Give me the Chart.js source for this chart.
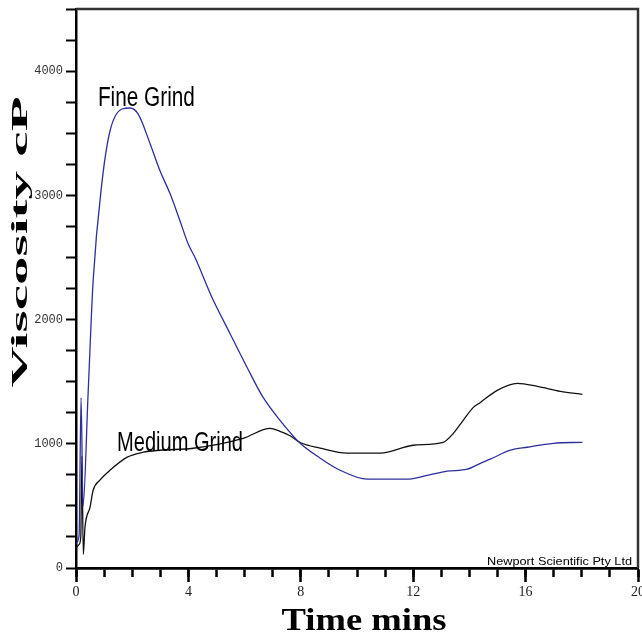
<!DOCTYPE html>
<html>
<head>
<meta charset="utf-8">
<script src="https://cdn.jsdelivr.net/npm/chart.js@4/dist/chart.umd.min.js"></script>
<style>
  html, body { margin: 0; padding: 0; background: #fff; }
  #wrap { width: 642px; height: 633px; }
</style>
</head>
<body>
<div id="wrap"><canvas id="grafico"></canvas></div>
<script>
// Fine Grind (blue) - time in mins, viscosity in cP
const timeFine = [0, 0.11, 0.18, 0.25, 0.43, 0.61, 0.93, 1.21, 1.64, 1.92, 2.21, 2.64, 2.99, 3.35, 3.70, 3.99, 4.24, 4.84, 5.48, 6.09, 6.66, 7.26, 7.98, 8.69, 9.40, 10.36, 11.79, 12.50, 13.21, 13.92, 14.39, 14.74, 15.46, 16.06, 16.99, 18.02];
const viscFine = [200, 260, 1370, 500, 1400, 2313, 3116, 3518, 3695, 3703, 3655, 3414, 3197, 3012, 2795, 2610, 2498, 2177, 1888, 1614, 1373, 1189, 1004, 884, 787, 715, 715, 745, 779, 795, 843, 876, 948, 972, 1004, 1012];

// Medium Grind (black)
const timeMedium = [0, 0.11, 0.17, 0.21, 0.26, 0.32, 0.50, 0.61, 0.85, 1.21, 1.82, 2.39, 2.99, 4.17, 5.95, 6.91, 7.26, 7.62, 7.98, 8.69, 9.65, 10.83, 12.00, 13.07, 13.43, 13.78, 14.14, 14.39, 14.99, 15.71, 16.42, 17.24, 18.02];
const viscMedium = [160, 190, 250, 900, 110, 330, 490, 626, 707, 787, 892, 932, 948, 964, 1044, 1124, 1100, 1065, 1010, 965, 924, 924, 988, 1012, 1084, 1189, 1293, 1333, 1430, 1486, 1462, 1422, 1398];

const xTicksMajor = [0, 4, 8, 12, 16, 20];
const yTicksLabelled = [0, 1000, 2000, 3000, 4000];

const corAzul = '#2d2f9e';
const corPreta = '#111111';

function toPoints(xs, ys) {
    return xs.map((x, i) => ({ x: x, y: ys[i] }));
}

// texto esticado para caber numa largura
function textoAjustado(ctx, texto, x, y, largura, fonte, align) {
    ctx.save();
    ctx.font = fonte;
    const w = ctx.measureText(texto).width;
    const s = largura / w;
    ctx.translate(x, y);
    ctx.scale(s, 1);
    ctx.textBaseline = 'alphabetic';
    ctx.textAlign = align || 'left';
    ctx.fillText(texto, 0, 0);
    ctx.restore();
}

const extrasPlugin = {
    id: 'extras',
    afterDraw(chart) {
        const ctx = chart.ctx;
        const area = chart.chartArea;
        const xs = chart.scales.x;
        const ys = chart.scales.y;

        // moldura superior e direita
        ctx.save();
        ctx.strokeStyle = '#333';
        ctx.lineWidth = 2.5;
        ctx.beginPath();
        ctx.moveTo(area.left, area.top);
        ctx.lineTo(area.right, area.top);
        ctx.lineTo(area.right, area.bottom);
        ctx.stroke();
        ctx.restore();

        ctx.save();
        ctx.fillStyle = '#000';

        // titulo eixo y
        ctx.save();
        ctx.translate(27, 242);
        ctx.rotate(-Math.PI / 2);
        textoAjustado(ctx, 'Viscosity cP', 0, 0, 291, 'bold 23px "Liberation Serif"', 'center');
        ctx.restore();

        // titulo eixo x
        textoAjustado(ctx, 'Time mins', 364, 630, 165, 'bold 32px "Liberation Serif"', 'center');

        // rotulos das curvas
        textoAjustado(ctx, 'Fine Grind', xs.getPixelForValue(0.78), ys.getPixelForValue(3720), 97, '27px "Liberation Sans"');
        textoAjustado(ctx, 'Medium Grind', xs.getPixelForValue(1.46), ys.getPixelForValue(942), 126, '28px "Liberation Sans"');

        // credito
        textoAjustado(ctx, 'Newport Scientific Pty Ltd', 487, 565, 145, '11px "Liberation Sans"');
        ctx.restore();
    }
};

const ctx = document.getElementById('grafico').getContext('2d');
const myChart = new Chart(ctx, {
    type: 'scatter',
    data: {
        datasets: [
            {
                label: 'Fine Grind',
                data: toPoints(timeFine, viscFine),
                showLine: true,
                borderColor: corAzul,
                borderWidth: 1.3,
                pointRadius: 0,
                cubicInterpolationMode: 'monotone',
                xAxisID: 'x',
                yAxisID: 'y'
            },
            {
                label: 'Medium Grind',
                data: toPoints(timeMedium, viscMedium),
                showLine: true,
                borderColor: corPreta,
                borderWidth: 1.3,
                pointRadius: 0,
                cubicInterpolationMode: 'monotone',
                xAxisID: 'x',
                yAxisID: 'y'
            }
        ]
    },
    options: {
        responsive: true,
        maintainAspectRatio: false,
        animation: false,
        layout: { padding: { top: 9, right: 4, left: 0, bottom: 0 } },
        plugins: {
            legend: { display: false },
            tooltip: { enabled: false }
        },
        scales: {
            x: {
                type: 'linear',
                position: 'bottom',
                weight: 1,
                min: 0,
                max: 20,
                afterBuildTicks: (scale) => {
                    scale.ticks = xTicksMajor.map(v => ({ value: v }));
                },
                ticks: {
                    color: '#222',
                    padding: 2,
                    maxRotation: 0,
                    autoSkip: false,
                    font: { family: '"Liberation Serif"', size: 14 }
                },
                grid: {
                    drawOnChartArea: false,
                    drawTicks: true,
                    tickLength: 14,
                    tickWidth: 2.5,
                    tickColor: '#000'
                },
                border: { display: true, color: '#000', width: 2.5 },
                afterFit: (scale) => {
                    scale.height = 65;
                    scale.paddingLeft = 0;
                    scale.paddingRight = 0;
                }
            },
            x2: {
                type: 'linear',
                position: 'bottom',
                weight: 0,
                min: 0,
                max: 20,
                ticks: { display: false, stepSize: 1 },
                grid: {
                    drawOnChartArea: false,
                    drawTicks: true,
                    tickLength: 9,
                    tickWidth: 2.5,
                    tickColor: '#000'
                },
                border: { display: true, color: '#000', width: 2.5 },
                afterFit: (scale) => {
                    scale.height = 0;
                    scale.paddingLeft = 0;
                    scale.paddingRight = 0;
                }
            },
            y: {
                type: 'linear',
                min: 0,
                max: 4500,
                ticks: {
                    stepSize: 250,
                    autoSkip: false,
                    padding: 3,
                    color: '#333',
                    font: { family: '"Liberation Mono"', size: 12 },
                    callback: (v) => yTicksLabelled.includes(v) ? String(v) : ''
                },
                grid: {
                    drawOnChartArea: false,
                    drawTicks: true,
                    tickLength: 10,
                    tickWidth: 2,
                    tickColor: '#000'
                },
                border: { display: true, color: '#000', width: 2.5 },
                afterFit: (scale) => {
                    scale.width = 76;
                    scale.paddingTop = 0;
                    scale.paddingBottom = 0;
                }
            }
        }
    },
    plugins: [extrasPlugin]
});
</script>
</body>
</html>
